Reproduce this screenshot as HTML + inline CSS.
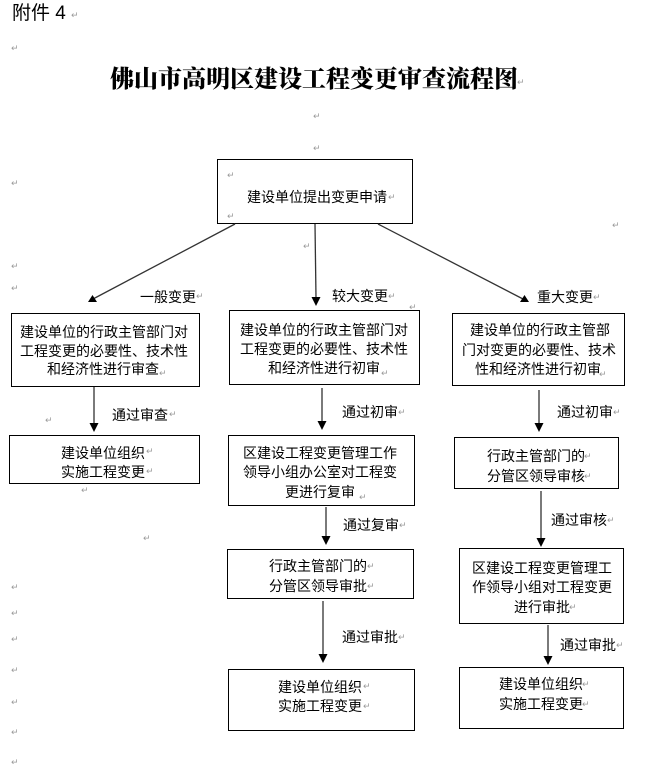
<!DOCTYPE html>
<html>
<head>
<meta charset="utf-8">
<style>
  html,body{margin:0;padding:0;background:#fff;}
  body{width:647px;height:764px;overflow:hidden;}
  svg{display:block;}
  .t{font-family:"Liberation Sans","Noto Sans CJK SC",sans-serif;font-size:14px;fill:#000;}
  .m{font-family:"DejaVu Sans",sans-serif;font-size:9px;fill:#9a9a9a;}
  .title{font-family:"Liberation Serif","Noto Serif CJK SC",serif;font-size:24px;font-weight:900;fill:#000;}
  .hd{font-family:"Liberation Sans","Noto Sans CJK SC",sans-serif;font-size:19px;fill:#000;}
</style>
</head>
<body>
<svg width="647" height="764" viewBox="0 0 647 764" xmlns="http://www.w3.org/2000/svg">
  <rect x="0" y="0" width="647" height="764" fill="#fff"/>

  <!-- header -->
  <text class="hd" x="12" y="19">附件 4</text>
  <text class="title" x="110" y="87">佛山市高明区建设工程变更审查流程图</text>

  <!-- paragraph marks -->
  <g class="m">
    <text x="71" y="18">↵</text>
    <text x="11" y="51">↵</text>
    <text x="517" y="85">↵</text>
    <text x="313" y="119">↵</text>
    <text x="313" y="151">↵</text>
    <text x="11" y="186">↵</text>
    <text x="227" y="178">↵</text>
    <text x="227" y="219">↵</text>
    <text x="388" y="200">↵</text>
    <text x="612" y="228">↵</text>
    <text x="303" y="249">↵</text>
    <text x="11" y="269">↵</text>
    <text x="11" y="291">↵</text>
    <text x="196" y="299">↵</text>
    <text x="388" y="299">↵</text>
    <text x="593" y="300">↵</text>
    <text x="409" y="310">↵</text>
    <text x="159" y="376">↵</text>
    <text x="381" y="376">↵</text>
    <text x="599" y="377">↵</text>
    <text x="45" y="423">↵</text>
    <text x="169" y="417">↵</text>
    <text x="398" y="415">↵</text>
    <text x="613" y="415">↵</text>
    <text x="146" y="454">↵</text>
    <text x="146" y="474">↵</text>
    <text x="81" y="493">↵</text>
    <text x="359" y="500">↵</text>
    <text x="584" y="459">↵</text>
    <text x="584" y="479">↵</text>
    <text x="607" y="523">↵</text>
    <text x="399" y="528">↵</text>
    <text x="143" y="541">↵</text>
    <text x="367" y="569">↵</text>
    <text x="367" y="589">↵</text>
    <text x="569" y="610">↵</text>
    <text x="398" y="640">↵</text>
    <text x="616" y="648">↵</text>
    <text x="11" y="590">↵</text>
    <text x="11" y="616">↵</text>
    <text x="11" y="642">↵</text>
    <text x="11" y="673">↵</text>
    <text x="11" y="705">↵</text>
    <text x="11" y="735">↵</text>
    <text x="11" y="765">↵</text>
    <text x="363" y="689">↵</text>
    <text x="363" y="709">↵</text>
    <text x="582" y="687">↵</text>
    <text x="582" y="707">↵</text>
  </g>

  <!-- boxes -->
  <g fill="none" stroke="#000" stroke-width="1">
    <rect x="217.5" y="159.5" width="195" height="64"/>
    <rect x="11.5" y="313.5" width="188" height="73"/>
    <rect x="9.5" y="435.5" width="190" height="48"/>
    <rect x="229.5" y="310.5" width="190" height="74"/>
    <rect x="228.5" y="435.5" width="186" height="70"/>
    <rect x="227.5" y="549.5" width="186" height="49"/>
    <rect x="228.5" y="669.5" width="186" height="61"/>
    <rect x="452.5" y="313.5" width="172" height="72"/>
    <rect x="454.5" y="437.5" width="164" height="51"/>
    <rect x="459.5" y="548.5" width="164" height="75"/>
    <rect x="459.5" y="667.5" width="164" height="61"/>
  </g>

  <!-- connectors -->
  <g stroke="#333" stroke-width="1.3" fill="none">
    <line x1="235" y1="224" x2="93" y2="299"/>
    <line x1="315" y1="224" x2="316" y2="298"/>
    <line x1="378" y1="224" x2="523" y2="299"/>
    <line x1="94" y1="387" x2="94" y2="424"/>
    <line x1="322" y1="388" x2="322" y2="422"/>
    <line x1="326" y1="507" x2="326" y2="537"/>
    <line x1="323" y1="601" x2="323" y2="655"/>
    <line x1="539" y1="390" x2="539" y2="424"/>
    <line x1="541" y1="491" x2="541" y2="539"/>
    <line x1="548" y1="625" x2="548" y2="657"/>
  </g>
  <g fill="#000">
    <polygon points="88,302 97,302 92.5,295"/>
    <polygon points="311.5,297 320.5,297 316,306"/>
    <polygon points="520,302 529,302 524.5,295"/>
    <polygon points="89.5,423 98.5,423 94,432"/>
    <polygon points="317.5,421 326.5,421 322,430"/>
    <polygon points="321.5,536 330.5,536 326,545"/>
    <polygon points="318.5,654 327.5,654 323,663"/>
    <polygon points="534.5,423 543.5,423 539,432"/>
    <polygon points="536.5,538 545.5,538 541,547"/>
    <polygon points="543.5,656 552.5,656 548,665"/>
  </g>

  <!-- box texts -->
  <g class="t" text-anchor="middle">
    <text x="317" y="202">建设单位提出变更申请</text>

    <text x="104" y="337">建设单位的行政主管部门对</text>
    <text x="104" y="356">工程变更的必要性、技术性</text>
    <text x="103" y="374">和经济性进行审查</text>

    <text x="103" y="458">建设单位组织</text>
    <text x="103" y="477">实施工程变更</text>

    <text x="324" y="335">建设单位的行政主管部门对</text>
    <text x="324" y="354">工程变更的必要性、技术性</text>
    <text x="324" y="373">和经济性进行初审</text>

    <text x="320" y="458">区建设工程变更管理工作</text>
    <text x="320" y="477">领导小组办公室对工程变</text>
    <text x="320" y="497">更进行复审</text>

    <text x="318" y="571">行政主管部门的</text>
    <text x="318" y="591">分管区领导审批</text>

    <text x="320" y="692">建设单位组织</text>
    <text x="320" y="711">实施工程变更</text>

    <text x="540" y="335">建设单位的行政主管部</text>
    <text x="539" y="355">门对变更的必要性、技术</text>
    <text x="538" y="374">性和经济性进行初审</text>

    <text x="536" y="461">行政主管部门的</text>
    <text x="536" y="481">分管区领导审核</text>

    <text x="542" y="573">区建设工程变更管理工</text>
    <text x="542" y="592">作领导小组对工程变更</text>
    <text x="542" y="612">进行审批</text>

    <text x="541" y="689">建设单位组织</text>
    <text x="541" y="709">实施工程变更</text>
  </g>

  <!-- connector labels -->
  <g class="t">
    <text x="140" y="302">一般变更</text>
    <text x="332" y="301">较大变更</text>
    <text x="537" y="302">重大变更</text>
    <text x="112" y="420">通过审查</text>
    <text x="342" y="417">通过初审</text>
    <text x="557" y="417">通过初审</text>
    <text x="343" y="530">通过复审</text>
    <text x="551" y="525">通过审核</text>
    <text x="342" y="642">通过审批</text>
    <text x="560" y="650">通过审批</text>
  </g>
</svg>
</body>
</html>
